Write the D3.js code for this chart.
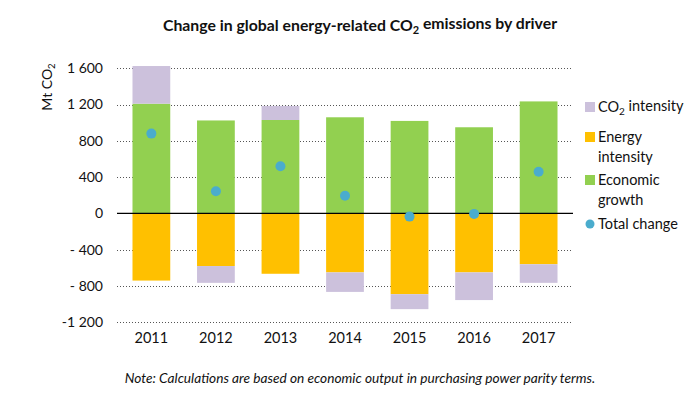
<!DOCTYPE html>
<html>
<head>
<meta charset="UTF-8">
<script src="https://d3js.org/d3.v7.min.js"></script>
<style>
    body { margin: 0; background: #fff; }
    svg { display: block; font-family: Lato, "Open Sans", sans-serif; }
    .grid line { stroke: #555; stroke-dasharray: 1 2; }
</style>
</head>
<body>
<svg id="chart" width="693" height="396"></svg>
<script>
    // values, Mt CO2
    const years = ["2011", "2012", "2013", "2014", "2015", "2016", "2017"];
    const economicGrowth = [1210, 1025, 1030, 1060, 1020, 950, 1235];
    const energyIntensity = [-740, -580, -665, -650, -890, -650, -560];
    const co2Intensity = [415, -185, 155, -215, -165, -305, -205];
    const totalChange = [880, 245, 520, 195, -35, -5, 460];
    const yTicks = [1600, 1200, 800, 400, 0, -400, -800, -1200];
    const yTickLabels = ["1 600", "1 200", "800", "400", "0", "- 400", "- 800", "-1 200"];

    const colors = { econ: "#92d050", energy: "#ffc000", co2: "#ccc1dc", total: "#4aaccd" };

    const svg = d3.select("#chart");
    const plotLeft = 117, plotRight = 573;

    const x = d3.scaleBand().domain(years).range([plotLeft, plotRight]).paddingInner(0.415).paddingOuter(0.24);
    const y = d3.scaleLinear().domain([-1200, 1600]).range([322.3, 68.3]);

    // table for stacking
    const rows = years.map((yr, i) => ({
        year: yr, econ: economicGrowth[i], energy: energyIntensity[i], co2: co2Intensity[i]
    }));
    const series = d3.stack().keys(["econ", "energy", "co2"]).offset(d3.stackOffsetDiverging)(rows);

    // gridlines
    svg.append("g").attr("class", "grid")
        .selectAll("line").data(yTicks.filter(d => d !== 0)).join("line")
        .attr("x1", plotLeft).attr("x2", plotRight)
        .attr("y1", d => Math.round(y(d)) + 0.5).attr("y2", d => Math.round(y(d)) + 0.5);

    // tick labels
    svg.append("g").selectAll("text").data(yTicks).join("text")
        .attr("x", 103).attr("y", d => y(d)).attr("dy", "0.35em")
        .attr("text-anchor", "end").style("font-size", "14px").style("fill", "#111")
        .text((d, i) => yTickLabels[i]);

    // bars
    svg.append("g").selectAll("g").data(series).join("g")
        .attr("fill", d => colors[d.key])
        .selectAll("rect").data(d => d).join("rect")
        .attr("x", d => x(d.data.year))
        .attr("width", x.bandwidth())
        .attr("y", d => y(d[1]))
        .attr("height", d => Math.max(0, y(d[0]) - y(d[1])));

    // zero line
    svg.append("line")
        .attr("x1", plotLeft).attr("x2", plotRight)
        .attr("y1", y(0)).attr("y2", y(0))
        .style("stroke", "#000").style("stroke-width", 1.3);

    // total change dots
    svg.append("g").selectAll("circle").data(totalChange).join("circle")
        .attr("cx", (d, i) => x(years[i]) + x.bandwidth() / 2)
        .attr("cy", d => y(d))
        .attr("r", 5)
        .style("fill", colors.total);

    // x labels
    svg.append("g").selectAll("text").data(years).join("text")
        .attr("x", d => x(d) + x.bandwidth() / 2).attr("y", 338).attr("dy", "0.35em")
        .attr("text-anchor", "middle").style("font-size", "14.5px").style("fill", "#111")
        .text(d => d);

    // title
    const title = svg.append("text")
        .attr("x", 360).attr("y", 25).attr("dy", "0.35em")
        .attr("text-anchor", "middle").style("font-size", "15.8px").style("font-weight", "bold")
        .style("fill", "#111");
    title.append("tspan").text("Change in global energy-related CO");
    title.append("tspan").text("2").attr("dy", "0.3em").style("font-size", "11px");
    title.append("tspan").text(" emissions by driver").attr("dy", "-0.3em");

    // y axis label
    const yl = svg.append("text")
        .attr("transform", "translate(47,87) rotate(-90)")
        .attr("dy", "0.35em")
        .attr("text-anchor", "middle").style("font-size", "14px").style("fill", "#111");
    yl.append("tspan").text("Mt CO");
    yl.append("tspan").text("2").attr("dy", "0.3em").style("font-size", "9.5px");

    // legend
    const legend = svg.append("g").style("font-size", "14.5px").style("fill", "#111");
    const legendItems = [
        { key: "co2", lines: ["CO", "intensity"], y: 107, sub: true },
        { key: "energy", lines: ["Energy", "intensity"], y: 137 },
        { key: "econ", lines: ["Economic", "growth"], y: 180 },
        { key: "total", lines: ["Total change"], y: 224 }
    ];
    legendItems.forEach(item => {
        if (item.key === "total") {
            legend.append("circle").attr("cx", 590).attr("cy", item.y).attr("r", 4.5)
                .style("fill", colors.total);
        } else {
            legend.append("rect").attr("x", 585).attr("y", item.y - 5).attr("width", 10).attr("height", 10)
                .style("fill", colors[item.key]);
        }
        const t = legend.append("text").attr("x", 598).attr("y", item.y).attr("dy", "0.35em");
        if (item.sub) {
            t.append("tspan").text("CO");
            t.append("tspan").text("2").attr("dy", "0.3em").style("font-size", "10px");
            t.append("tspan").text(" intensity").attr("dy", "-0.3em");
        } else {
            item.lines.forEach((ln, j) => {
                t.append("tspan").attr("x", 598).attr("dy", j === 0 ? "0.35em" : "19.5px").text(ln);
            });
        }
    });

    // note
    svg.append("text")
        .attr("x", 360).attr("y", 378).attr("dy", "0.35em")
        .attr("text-anchor", "middle").style("font-size", "13.7px").style("font-style", "italic")
        .style("fill", "#111")
        .text("Note: Calculations are based on economic output in purchasing power parity terms.");
</script>
</body>
</html>
